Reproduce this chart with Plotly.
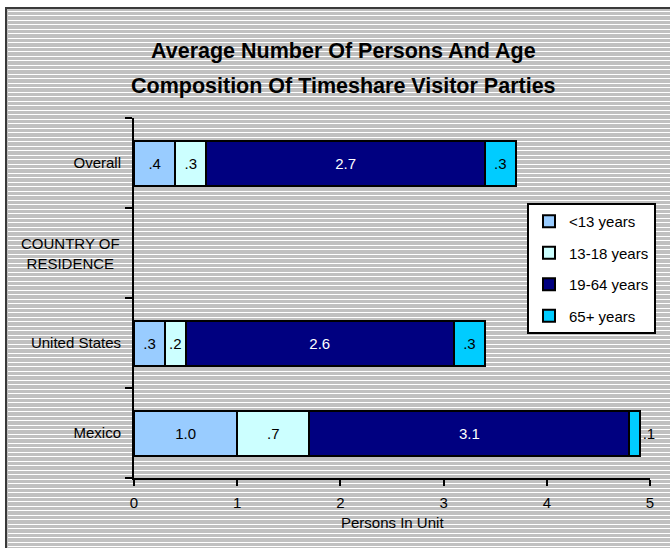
import plotly.graph_objects as go

# Categories (bottom to top on the y axis)
categories = ["Mexico", "United States", "COUNTRY OF RESIDENCE", "Overall"]

# Average persons per unit by age group
age_groups = ["<13 years", "13-18 years", "19-64 years", "65+ years"]
under_13 = [1.0, 0.3, None, 0.4]
age_13_18 = [0.7, 0.2, None, 0.3]
age_19_64 = [3.1, 2.6, None, 2.7]
age_65_plus = [0.1, 0.3, None, 0.3]

x_ticks = [0, 1, 2, 3, 4, 5]

series = [under_13, age_13_18, age_19_64, age_65_plus]
colors = ["#99CCFF", "#CCFFFF", "#000080", "#00CCFF"]
text_colors = ["black", "black", "white", "black"]

W, H = 670, 548
ML, MR, MT, MB = 134, 20, 118, 70
PW, PH = W - ML - MR, H - MT - MB


def px_x(p):
    return (p - ML) / PW


def px_y(p):
    return (H - MB - p) / PH


def fmt(v):
    if v is None:
        return ""
    return f"{v:.1f}".lstrip("0")


font = "Liberation Sans, Arial"

fig = go.Figure()
for name, vals, col, tcol in zip(age_groups, series, colors, text_colors):
    positions = []
    for v in vals:
        # the thin sliver on the Mexico bar gets its label outside
        positions.append("outside" if (v is not None and v < 0.15) else "inside")
    fig.add_trace(go.Bar(
        name=name,
        y=categories,
        x=vals,
        orientation="h",
        marker=dict(color=col, line=dict(color="black", width=2)),
        text=[fmt(v) for v in vals],
        textposition=positions,
        insidetextanchor="middle",
        insidetextfont=dict(color=tcol, size=15, family=font),
        outsidetextfont=dict(color="black", size=15, family=font),
        cliponaxis=False,
        legendgroup=name,
    ))

# Striped grey background with a dark frame
x0, y0 = px_x(6), px_y(8)
x1, y1 = px_x(W + 5), px_y(H + 5)
shapes = [dict(type="rect", xref="paper", yref="paper", x0=x0, y0=y0, x1=x1, y1=y1,
               fillcolor="#C0C0C0", line=dict(color="#3A3A3A", width=2), layer="below")]
path = []
y = 11
step = 0
while y < H:
    yy = px_y(y + 0.5)
    path.append(f"M{px_x(8):.5f},{yy:.5f} H{px_x(W):.5f}")
    y += 4 if step % 2 == 0 else 5
    step += 1
shapes.append(dict(type="path", xref="paper", yref="paper", path=" ".join(path),
                   line=dict(color="white", width=1), layer="below"))

annotations = [
    dict(text="<b>Average Number Of Persons And Age</b>", x=px_x(343), y=px_y(50.5),
         xref="paper", yref="paper", showarrow=False, xanchor="center", yanchor="middle",
         font=dict(size=21.5, family=font, color="black")),
    dict(text="<b>Composition Of Timeshare Visitor Parties</b>", x=px_x(343), y=px_y(85.5),
         xref="paper", yref="paper", showarrow=False, xanchor="center", yanchor="middle",
         font=dict(size=21.5, family=font, color="black")),
    dict(text="COUNTRY OF<br>RESIDENCE", x=px_x(70), y=categories[2], xref="paper", yref="y",
         showarrow=False, xanchor="center", yanchor="middle", align="center",
         font=dict(size=15, family=font, color="black")),
    dict(text="Persons In Unit", x=0.5, y=px_y(522), xref="paper", yref="paper",
         showarrow=False, xanchor="center", yanchor="middle",
         font=dict(size=15, family=font, color="black")),
]

fig.update_layout(
    width=W, height=H,
    margin=dict(l=ML, r=MR, t=MT, b=MB, pad=0, autoexpand=False),
    paper_bgcolor="white",
    plot_bgcolor="rgba(0,0,0,0)",
    barmode="stack",
    bargap=0.5,
    shapes=shapes,
    annotations=annotations,
    uniformtext=dict(minsize=15, mode="show"),
    font=dict(family=font, size=15, color="black"),
    showlegend=True,
    legend=dict(
        x=px_x(527), y=px_y(203), xanchor="left", yanchor="top",
        bgcolor="white", bordercolor="black", borderwidth=2,
        font=dict(size=15, family=font, color="black"),
        tracegroupgap=9, traceorder="grouped", itemwidth=30,
    ),
)
fig.update_xaxes(
    range=[0, 5], tickvals=x_ticks, ticks="outside", ticklen=6, tickwidth=2,
    tickcolor="black", showline=True, linecolor="black", linewidth=2,
    showgrid=False, zeroline=False, tickfont=dict(size=15), ticklabelstandoff=4,
)
fig.update_yaxes(
    type="category", categoryorder="array", categoryarray=categories,
    tickvals=categories, ticktext=[c if i != 2 else "" for i, c in enumerate(categories)],
    range=[-0.5, 3.5], tickson="boundaries", ticks="outside", ticklen=7, tickwidth=2,
    tickcolor="black", showline=True, linecolor="black", linewidth=2,
    showgrid=False, zeroline=False, tickfont=dict(size=15), ticklabelstandoff=8,
)

fig.write_html("out.html")
